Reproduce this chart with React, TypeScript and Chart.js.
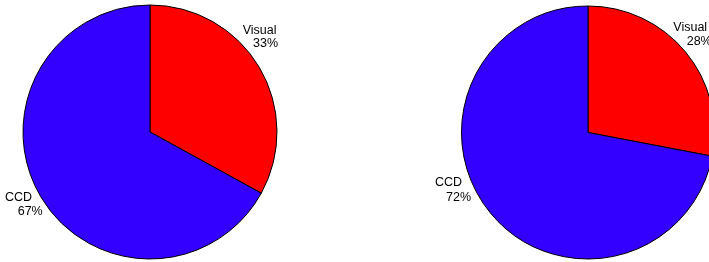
import React, { useEffect, useRef } from "react";
import { Chart, registerables } from "chart.js";

Chart.register(...registerables);

// ---- data ----
const categories = ["Visual", "CCD"];
const leftValues = [33, 67];
const rightValues = [28, 72];
const leftPctLabels = ["33%", "67%"];
const rightPctLabels = ["28%", "72%"];

// ---- styles ----
const sliceColors = ["rgb(255,0,0)", "rgb(51,0,255)"];
const FONT = "12.5px 'Liberation Sans', Arial, sans-serif";

type LineOffset = { dx: number; dy: number };

// label line offsets (left edge, baseline) relative to pie centre
const leftLabelLayout: LineOffset[][] = [
  [
    { dx: 92.7, dy: -98 },
    { dx: 103, dy: -84.7 },
  ],
  [
    { dx: -145, dy: 68.7 },
    { dx: -132.3, dy: 83 },
  ],
];
const rightLabelLayout: LineOffset[][] = [
  [
    { dx: 85.3, dy: -101.8 },
    { dx: 98.7, dy: -87.5 },
  ],
  [
    { dx: -153, dy: 53.5 },
    { dx: -142, dy: 68.5 },
  ],
];

function makeLabelPlugin(pct: string[], layout: LineOffset[][]) {
  return {
    id: "pieLabels",
    afterDraw(chart: any) {
      const meta = chart.getDatasetMeta(0);
      const ctx = chart.ctx;
      ctx.save();
      ctx.font = FONT;
      ctx.fillStyle = "#000";
      ctx.textAlign = "left";
      ctx.textBaseline = "alphabetic";
      meta.data.forEach((arc: any, i: number) => {
        const lines = [categories[i], pct[i]];
        lines.forEach((t, j) => {
          const o = layout[i][j];
          ctx.fillText(t, arc.x + o.dx, arc.y + o.dy);
        });
      });
      ctx.restore();
    },
  };
}

function PieCanvas(props: {
  values: number[];
  pct: string[];
  layout: LineOffset[][];
  left: number;
  width: number;
  radius: number;
  padTop: number;
}) {
  const ref = useRef<HTMLCanvasElement | null>(null);
  useEffect(() => {
    if (!ref.current) return;
    const chart = new Chart(ref.current, {
      type: "pie",
      data: {
        labels: categories,
        datasets: [
          {
            data: props.values,
            backgroundColor: sliceColors,
            borderColor: "#000",
            borderWidth: 1,
          },
        ],
      },
      options: {
        responsive: false,
        animation: false,
        events: [],
        radius: props.radius,
        layout: { padding: { top: props.padTop, bottom: 0, left: 0, right: 0 } },
        plugins: {
          legend: { display: false },
          tooltip: { enabled: false },
        },
      } as any,
      plugins: [makeLabelPlugin(props.pct, props.layout)],
    });
    return () => chart.destroy();
  }, []);
  return (
    <canvas
      ref={ref}
      width={props.width}
      height={262}
      style={{ position: "absolute", left: props.left, top: 0, width: props.width, height: 262 }}
    />
  );
}

export default function App() {
  useEffect(() => {
    document.body.style.margin = "0";
    document.body.style.background = "#fff";
  }, []);
  return (
    <div
      style={{
        position: "relative",
        width: 709,
        height: 262,
        overflow: "hidden",
        background: "#fff",
      }}
    >
      <PieCanvas values={leftValues} pct={leftPctLabels} layout={leftLabelLayout} left={0} width={300} radius={127} padTop={2} />
      <PieCanvas values={rightValues} pct={rightPctLabels} layout={rightLabelLayout} left={400} width={376} radius={126.5} padTop={3} />
    </div>
  );
}
